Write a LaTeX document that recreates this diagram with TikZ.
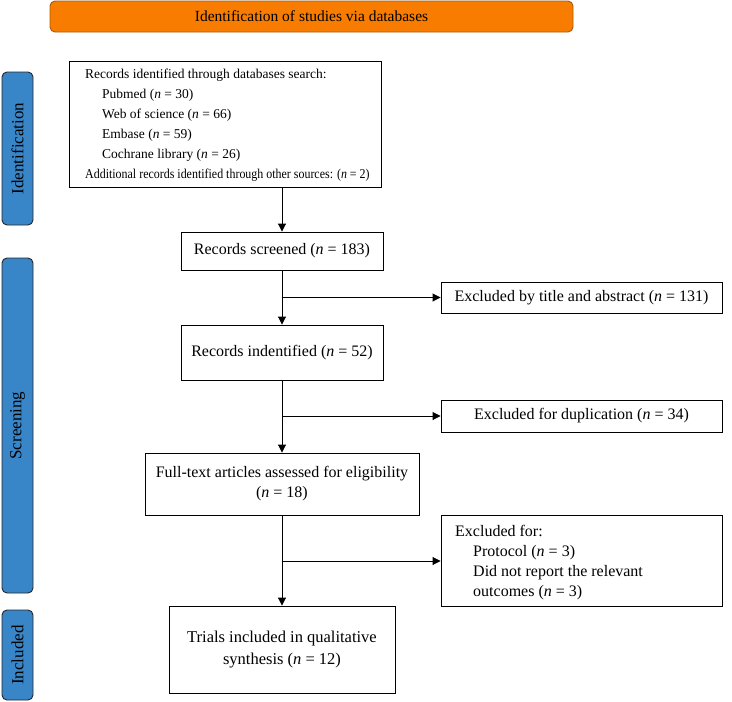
\documentclass[tikz,border=0pt]{standalone}
\usepackage{fontspec}
\setmainfont{Liberation Serif}
\usetikzlibrary{arrows.meta,positioning,calc}
\definecolor{orangebar}{RGB}{247,124,0}
\definecolor{orangeedge}{RGB}{170,90,10}
\definecolor{bluebar}{RGB}{56,134,200}
\newcommand{\nn}{\textit{n} = }
\begin{document}
\begin{tikzpicture}[x=1pt,y=-1pt,
  every node/.style={font=\fontsize{16}{20}\selectfont, inner sep=0pt},
  box/.style={draw, line width=0.9pt, fill=white, align=center},
  phase/.style={draw=black!85, line width=0.9pt, fill=bluebar, rounded corners=5pt, minimum width=31pt},
  phasetext/.style={rotate=90, font=\fontsize{17}{20}\selectfont},
  arr/.style={line width=0.9pt, -{Triangle[length=8pt,width=8pt]}},
  ln/.style={line width=0.9pt}]
\useasboundingbox (0,0) rectangle (732,702);
% header
\node[draw=orangeedge, line width=0.9pt, fill=orangebar, rounded corners=5pt,
      minimum width=523pt, minimum height=31pt, font=\fontsize{15.5}{20}\selectfont] (head) at (311.5,16.5) {Identification of studies via databases};
% phase bars
\node[phase, minimum height=153pt] (pid) at (17.5,148.5) {};
\node[phasetext] (pidt) at (pid.center) {Identification};
\node[phase, minimum height=335pt] (psc) at (17.5,425.5) {};
\node[phasetext] (psct) at (psc.center) {Screening};
\node[phase, minimum height=90pt] (pin) at (17.5,655) {};
\node[phasetext] (pint) at (pin.center) {Included};
% boxes
\node[box, minimum width=312pt, minimum height=126pt] (b1) at (225,124) {};
\node[anchor=north west, align=left, font=\fontsize{13.5}{20}\selectfont] (b1t) at (85,68.5) {Records identified through databases search:\\
\hspace{17pt}Pubmed (\nn 30)\\
\hspace{17pt}Web of science (\nn 66)\\
\hspace{17pt}Embase (\nn 59)\\
\hspace{17pt}Cochrane library (\nn 26)\\
\scalebox{0.885}[1]{Additional records identified through other sources: (\nn 2)}};
\node[box, minimum width=202pt, minimum height=38pt] (scr) at (282,251) {Records screened (\nn 183)};
\node[box, minimum width=281pt, minimum height=31pt] (ex1) at (581.5,297.5) {Excluded by title and abstract (\nn 131)};
\node[box, minimum width=202pt, minimum height=55pt] (rid) at (282,352.5) {Records indentified (\nn 52)};
\node[box, minimum width=281pt, minimum height=32pt] (ex2) at (581.5,416) {Excluded for duplication (\nn 34)};
\node[box, minimum width=274pt, minimum height=62pt] (ft) at (282,484) {Full-text articles assessed for eligibility\\(\nn 18)};
\node[box, minimum width=281pt, minimum height=91pt] (ex3) at (581.5,561) {};
\node[anchor=north west, align=left] (ex3t) at (455,525.5) {Excluded for:\\
\hspace{18pt}Protocol (\nn 3)\\
\hspace{18pt}Did not report the relevant\\
\hspace{18pt}outcomes (\nn 3)};
\node[box, minimum width=226pt, minimum height=87pt, font=\fontsize{16.5}{22}\selectfont] (tr) at (282,649.5) {Trials included in qualitative\\synthesis (\nn 12)};
% connectors
\coordinate (c1) at (scr.south |- ex1.west);
\coordinate (c2) at (rid.south |- ex2.west);
\coordinate (c3) at (tr.north |- ex3.west);
\draw[arr] (scr.north |- b1.south) -- (scr.north);
\draw[arr] (scr.south) -- (rid.north);
\draw[arr] (c1) -- (ex1.west);
\draw[arr] (rid.south) -- (ft.north);
\draw[arr] (c2) -- (ex2.west);
\draw[arr] (ft.south) -- (tr.north);
\draw[arr] (c3) -- (ex3.west);
\end{tikzpicture}
\end{document}
